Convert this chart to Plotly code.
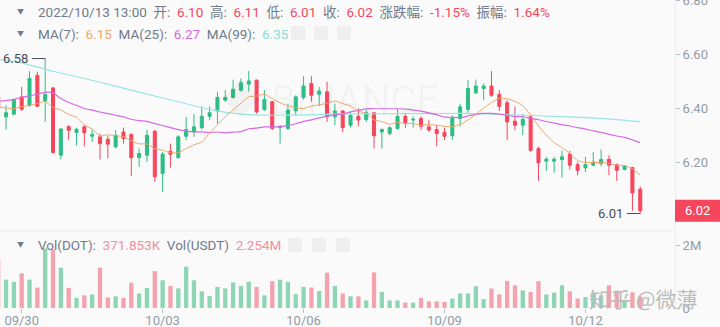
import pandas as pd
import plotly.graph_objects as go

# ---------------- data (4h candles, DOT/USDT) ----------------
start_time = "2022-09-29 12:00"
open_ = [6.442, 6.368, 6.378, 6.442, 6.411, 6.522, 6.427, 6.475, 6.226, 6.332,
         6.310, 6.331, 6.296, 6.294, 6.285, 6.257, 6.312, 6.303, 6.217, 6.226,
         6.315, 6.158, 6.241, 6.217, 6.296, 6.312, 6.328, 6.370, 6.389, 6.430,
         6.440, 6.467, 6.489, 6.504, 6.395, 6.424, 6.328, 6.325, 6.390, 6.440,
         6.492, 6.452, 6.461, 6.368, 6.390, 6.337, 6.370, 6.358, 6.383, 6.312,
         6.306, 6.325, 6.370, 6.356, 6.362, 6.331, 6.321, 6.311, 6.298, 6.362,
         6.395, 6.457, 6.473, 6.482, 6.451, 6.420, 6.352, 6.337, 6.368, 6.251,
         6.204, 6.204, 6.210, 6.230, 6.191, 6.179, 6.189, 6.195, 6.211, 6.191,
         6.173, 6.180, 6.100]
high = [6.448, 6.411, 6.436, 6.479, 6.537, 6.535, 6.584, 6.479, 6.327, 6.337,
        6.328, 6.337, 6.321, 6.306, 6.298, 6.319, 6.328, 6.306, 6.251, 6.319,
        6.319, 6.238, 6.269, 6.300, 6.368, 6.378, 6.407, 6.407, 6.461, 6.467,
        6.506, 6.510, 6.538, 6.506, 6.467, 6.427, 6.337, 6.417, 6.448, 6.519,
        6.519, 6.479, 6.498, 6.417, 6.393, 6.386, 6.399, 6.393, 6.386, 6.325,
        6.333, 6.395, 6.378, 6.370, 6.370, 6.356, 6.337, 6.328, 6.374, 6.417,
        6.504, 6.506, 6.491, 6.538, 6.467, 6.430, 6.407, 6.378, 6.374, 6.257,
        6.220, 6.220, 6.244, 6.242, 6.201, 6.220, 6.238, 6.247, 6.226, 6.195,
        6.189, 6.183, 6.110]
low = [6.393, 6.321, 6.374, 6.390, 6.405, 6.405, 6.349, 6.232, 6.211, 6.282,
       6.262, 6.259, 6.275, 6.210, 6.214, 6.251, 6.269, 6.148, 6.183, 6.201,
       6.127, 6.090, 6.180, 6.214, 6.282, 6.294, 6.321, 6.356, 6.343, 6.424,
       6.436, 6.461, 6.461, 6.380, 6.390, 6.319, 6.269, 6.319, 6.374, 6.432,
       6.424, 6.407, 6.349, 6.337, 6.312, 6.328, 6.333, 6.349, 6.251, 6.251,
       6.300, 6.321, 6.328, 6.328, 6.319, 6.312, 6.259, 6.282, 6.282, 6.333,
       6.383, 6.452, 6.430, 6.442, 6.390, 6.282, 6.319, 6.300, 6.238, 6.131,
       6.168, 6.161, 6.143, 6.173, 6.152, 6.164, 6.185, 6.185, 6.152, 6.131,
       6.170, 6.020, 6.010]
close = [6.399, 6.383, 6.432, 6.396, 6.510, 6.407, 6.451, 6.236, 6.323, 6.318,
         6.322, 6.309, 6.303, 6.269, 6.267, 6.300, 6.288, 6.217, 6.232, 6.300,
         6.146, 6.230, 6.229, 6.294, 6.321, 6.331, 6.370, 6.383, 6.440, 6.440,
         6.470, 6.494, 6.501, 6.386, 6.432, 6.325, 6.333, 6.393, 6.442, 6.482,
         6.448, 6.464, 6.368, 6.390, 6.328, 6.374, 6.356, 6.383, 6.298, 6.321,
         6.328, 6.370, 6.346, 6.359, 6.333, 6.319, 6.306, 6.296, 6.362, 6.405,
         6.473, 6.482, 6.482, 6.448, 6.407, 6.349, 6.337, 6.359, 6.244, 6.198,
         6.211, 6.211, 6.220, 6.189, 6.170, 6.191, 6.201, 6.210, 6.189, 6.170,
         6.185, 6.086, 6.020]
volume_m = [1.52, 0.90, 0.83, 1.10, 0.90, 0.65, 1.89, 1.86, 1.28, 0.64,
            0.32, 0.40, 0.43, 1.28, 0.33, 0.37, 0.32, 0.80, 0.46, 0.64,
            1.17, 0.88, 0.70, 0.62, 1.31, 0.88, 0.53, 0.38, 0.67, 0.62,
            0.81, 0.70, 0.83, 0.67, 0.40, 0.85, 0.90, 0.83, 0.44, 0.67,
            0.65, 0.54, 1.12, 0.70, 0.46, 0.37, 0.37, 0.24, 1.13, 0.51,
            0.24, 0.24, 0.17, 0.17, 0.32, 0.21, 0.21, 0.19, 0.30, 0.46,
            0.46, 0.69, 0.28, 0.62, 0.43, 0.86, 0.72, 0.56, 0.51, 0.85,
            0.43, 0.49, 0.72, 0.53, 0.30, 0.35, 0.45, 0.40, 0.72, 0.55,
            0.22, 0.50, 0.37]
ma7_head = [6.405, 6.401, 6.399, 6.405, 6.411, 6.417]
ma25_head = [6.426, 6.428, 6.433, 6.440, 6.446, 6.452, 6.459, 6.457, 6.436, 6.421,
             6.411, 6.399, 6.393, 6.386, 6.380, 6.374, 6.368, 6.359, 6.354, 6.351,
             6.343, 6.336, 6.328, 6.321]
ma99_pos = [0, 3, 7, 11, 15, 19, 23, 27, 31, 35, 39, 43, 47, 51, 55, 59, 63, 67, 71, 75, 79, 82]
ma99_val = [6.581, 6.568, 6.537, 6.510, 6.482, 6.452, 6.424, 6.396, 6.378, 6.374, 6.375,
            6.378, 6.379, 6.380, 6.380, 6.381, 6.378, 6.374, 6.370, 6.365, 6.358, 6.350]
tick_dates = ["2022-09-30", "2022-10-03", "2022-10-06", "2022-10-09", "2022-10-12"]
tick_labels = ["09/30", "10/03", "10/06", "10/09", "10/12"]
price_ticks = [6.2, 6.4, 6.6, 6.8]

hdr_time = "2022/10/13 13:00"
hdr_labels = ["开", "高", "低", "收", "涨跌幅", "振幅"]
hdr_values = ["6.10", "6.11", "6.01", "6.02", "-1.15%", "1.64%"]
ma_labels = ["MA(7)", "MA(25)", "MA(99)"]
ma_values = ["6.15", "6.27", "6.35"]
vol_labels = ["Vol(DOT):", "Vol(USDT)"]
vol_values = ["371.853K", "2.254M"]
watermark = "知乎 @微薄"

# ---------------- styling ----------------
UP, DOWN = "#2EBD85", "#F6465D"
UP_V, DOWN_V = "#8DD5B5", "#F4A3AE"
C_MA7, C_MA25, C_MA99 = "#F2A66A", "#D46BE3", "#9BE5E0"
GRAY, TXT = "#929AA5", "#707A8A"
BG = "#FAFAFA"
FONT = "Roboto, 'Noto Sans CJK SC', sans-serif"
W, H = 720, 327
ML, MR, MT, MB = 0, 45, 0, 19
PW, PH = W - ML - MR, H - MT - MB
PRICE_BOTTOM_PX = 230
VOL_TOP_PX = 232
PX_PER_CANDLE = 7.83
SEP = "&nbsp; "


def px_x(p):
    return p / PW


def px_y(p):
    return 1 - p / PH


times = pd.date_range(start_time, periods=len(close), freq="4h")
cs = pd.Series(close)
ma7 = cs.rolling(7).mean()
ma7.iloc[:len(ma7_head)] = ma7_head
ma25 = cs.rolling(25).mean()
ma25.iloc[:len(ma25_head)] = ma25_head

fig = go.Figure()
fig.add_trace(go.Candlestick(
    x=times, open=open_, high=high, low=low, close=close,
    increasing=dict(line=dict(color=UP, width=1), fillcolor=UP),
    decreasing=dict(line=dict(color=DOWN, width=1), fillcolor=DOWN),
    showlegend=False, hoverinfo="skip", xaxis="x", yaxis="y"))
fig.add_trace(go.Scatter(x=times[ma99_pos], y=ma99_val, mode="lines",
                         line=dict(color=C_MA99, width=1.2, shape="spline", smoothing=0.8),
                         showlegend=False, hoverinfo="skip"))
fig.add_trace(go.Scatter(x=times, y=ma25, mode="lines",
                         line=dict(color=C_MA25, width=1.2, shape="spline", smoothing=0.5),
                         showlegend=False, hoverinfo="skip"))
fig.add_trace(go.Scatter(x=times, y=ma7, mode="lines",
                         line=dict(color=C_MA7, width=1, shape="spline", smoothing=0.5),
                         showlegend=False, hoverinfo="skip"))
vol_colors = [UP_V if c >= o else DOWN_V for o, c in zip(open_, close)]
fig.add_trace(go.Bar(x=times, y=volume_m, marker=dict(color=vol_colors, line=dict(width=0)),
                     showlegend=False, hoverinfo="skip", xaxis="x", yaxis="y2"))

# axis ranges from the pixel geometry
hours = 4
x0 = times[0] + pd.Timedelta(hours=hours * 0.23)
x1 = times[0] + pd.Timedelta(hours=hours * (0.23 + PW / PX_PER_CANDLE))
px_per_price = 270.0
y_top = 6.8008
y_bot = y_top - PRICE_BOTTOM_PX / px_per_price
vol_px_per_m = 31.5
vol_top = (PH - VOL_TOP_PX) / vol_px_per_m

axis_font = dict(family=FONT, size=13, color=GRAY)
fig.update_layout(
    width=W, height=H, margin=dict(l=ML, r=MR, t=MT, b=MB, autoexpand=False),
    paper_bgcolor=BG, plot_bgcolor=BG, showlegend=False,
    boxgap=0.45, bargap=0.45,
    font=dict(family=FONT),
    xaxis=dict(type="date", range=[x0, x1], anchor="y2", rangeslider=dict(visible=False),
               showgrid=False, zeroline=False, showline=False, automargin=False,
               tickvals=pd.to_datetime(tick_dates), ticktext=tick_labels,
               ticks="outside", ticklen=4, tickcolor="#B7BDC6", tickwidth=1,
               ticklabelstandoff=-4, tickfont=axis_font),
    yaxis=dict(domain=[1 - PRICE_BOTTOM_PX / PH, 1], range=[y_bot, y_top], side="right",
               anchor="x", showgrid=False, zeroline=False, showline=True, automargin=False,
               linecolor="#EAECEF", linewidth=1, tickvals=price_ticks, tickformat=".2f",
               ticks="outside", ticklen=4, tickcolor="#B7BDC6", tickfont=axis_font,
               ticklabeloverflow="allow"),
    yaxis2=dict(domain=[0, 1 - VOL_TOP_PX / PH], range=[0, vol_top], side="right",
                anchor="x", showgrid=False, zeroline=False, showline=True, automargin=False,
                linecolor="#EAECEF", linewidth=1, tickvals=[0, 2], ticktext=["0", "2M"],
                ticks="outside", ticklen=4, tickcolor="#B7BDC6", tickfont=axis_font),
)

shapes = []
ann = []
# separator between panels
shapes.append(dict(type="line", xref="paper", yref="paper", x0=0, x1=1,
                   y0=px_y(PRICE_BOTTOM_PX + 1), y1=px_y(PRICE_BOTTOM_PX + 1),
                   line=dict(color="#EAECEF", width=1)))

# header rows
row1 = hdr_time + SEP + SEP.join(
    f"{lab}:{SEP}<span style='color:{DOWN}'>{val}</span>" for lab, val in zip(hdr_labels, hdr_values))
ma_cols = [C_MA7, C_MA25, "#8ADCD6"]
row2 = SEP.join(f"{lab}:{SEP}<span style='color:{c}'>{val}</span>"
                for lab, val, c in zip(ma_labels, ma_values, ma_cols))
row3 = SEP.join(f"{lab}{SEP}<span style='color:#EF8FA0'>{val}</span>"
                for lab, val in zip(vol_labels, vol_values))
for text, ypx in [(row1, 12), (row2, 34), (row3, 245)]:
    ann.append(dict(text=text, xref="paper", yref="paper", x=px_x(36), y=px_y(ypx),
                    xanchor="left", yanchor="middle", showarrow=False,
                    font=dict(family=FONT, size=13.5, color=TXT)))
    ann.append(dict(text="▼", xref="paper", yref="paper", x=px_x(20), y=px_y(ypx),
                    xanchor="center", yanchor="middle", showarrow=False,
                    font=dict(family=FONT, size=7, color=TXT)))

# faint toolbar squares
for ypx, xs in ((33, (291, 314, 337)), (245, (288, 312, 336))):
    for xl in xs:
        shapes.append(dict(type="rect", xref="paper", yref="paper",
                           x0=px_x(xl), x1=px_x(xl + 14), y0=px_y(ypx + 7), y1=px_y(ypx - 7),
                           fillcolor="#EFEFEF", line=dict(width=0)))

# high / low markers
imax = max(range(len(high)), key=lambda k: high[k])
imin = min(range(len(low)), key=lambda k: low[k])
seg = pd.Timedelta(hours=hours * 1.7)
shapes.append(dict(type="line", xref="x", yref="y", x0=times[imax] - seg, x1=times[imax],
                   y0=high[imax], y1=high[imax], line=dict(color="#474D57", width=1)))
ann.append(dict(text=f"{high[imax]:.2f}", xref="x", yref="y", x=times[imax] - seg,
                y=high[imax], xanchor="right", yanchor="middle", showarrow=False,
                xshift=-2, font=dict(family=FONT, size=13, color="#474D57")))
shapes.append(dict(type="line", xref="x", yref="y", x0=times[imin] - seg, x1=times[imin],
                   y0=low[imin], y1=low[imin], line=dict(color="#474D57", width=1)))
ann.append(dict(text=f"{low[imin]:.2f}", xref="x", yref="y", x=times[imin] - seg,
                y=low[imin], xanchor="right", yanchor="middle", showarrow=False,
                xshift=-2, font=dict(family=FONT, size=13, color="#474D57")))

# last price tag
half = 11 / px_per_price
shapes.append(dict(type="rect", xref="paper", yref="y", x0=1, x1=W / PW,
                   y0=close[-1] - half, y1=close[-1] + half,
                   fillcolor=DOWN, line=dict(width=0)))
ann.append(dict(text=f"{close[-1]:.2f}", xref="paper", yref="y", x=(PW + MR / 2) / PW,
                y=close[-1], xanchor="center", yanchor="middle", showarrow=False,
                font=dict(family=FONT, size=13, color="white")))

# faint exchange watermark
ann.append(dict(text="◆ BINANCE", xref="paper", yref="paper", x=px_x(330), y=px_y(100),
                xanchor="center", yanchor="middle", showarrow=False,
                font=dict(family=FONT, size=40, color="rgba(0,0,0,0.035)")))
# zhihu watermark
ann.append(dict(text=watermark, xref="paper", yref="paper", x=px_x(587), y=px_y(298),
                xanchor="left", yanchor="middle", showarrow=False,
                font=dict(family="'Noto Sans CJK SC', sans-serif", size=21, color="#BDBDBD")))

fig.update_layout(shapes=shapes, annotations=ann)
fig.write_html("out.html", include_plotlyjs=True, config={"displayModeBar": False})
